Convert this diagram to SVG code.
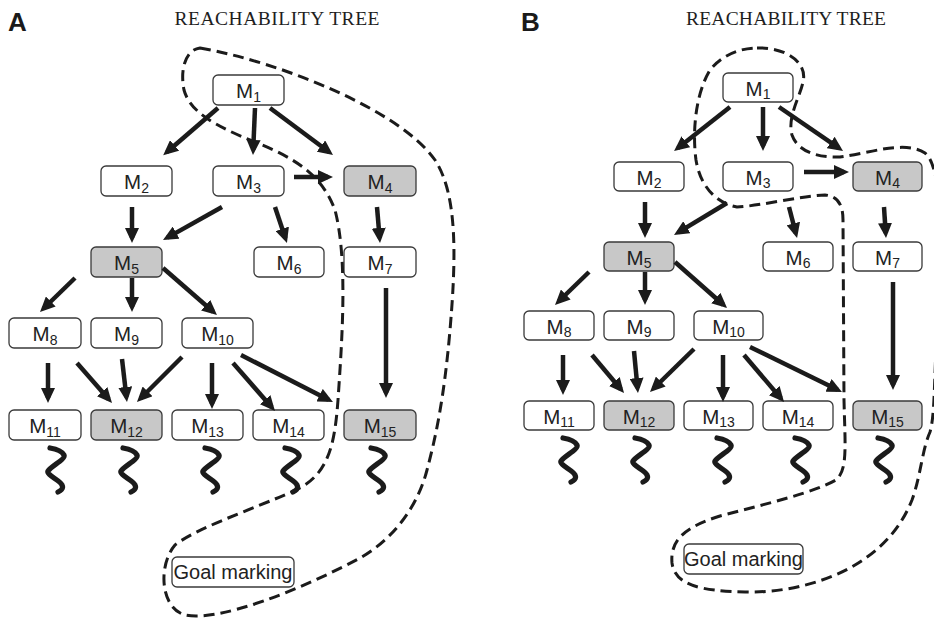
<svg xmlns="http://www.w3.org/2000/svg" xmlns:xlink="http://www.w3.org/1999/xlink" width="934" height="621" viewBox="0 0 934 621">
  <style>
    .panel { font-family: "Liberation Sans", Arial, sans-serif; font-weight: bold; font-size: 26px; fill: #1a1a1a; }
    .title { font-family: "Liberation Serif", "Times New Roman", serif; font-size: 19.5px; fill: #1e1e1e; }
    .box { fill: #ffffff; stroke: #3a3a3a; stroke-width: 1.3; }
    .goal .box { fill: #c8c8c8; }
    .lbl { font-family: "Liberation Sans", Arial, sans-serif; font-size: 20.5px; fill: #222; text-anchor: middle; }
    .sub { font-size: 14px; }
    .goaltext { font-family: "Liberation Sans", Arial, sans-serif; font-size: 20px; fill: #222; text-anchor: middle; }
    .arr { stroke: #1b1b1b; stroke-width: 4.5; fill: none; marker-end: url(#ah); }
    .region { fill: none; stroke: #1b1b1b; stroke-width: 3; stroke-dasharray: 11 6; }
    .squig { fill: none; stroke: #1b1b1b; stroke-width: 5.2; stroke-linecap: round; stroke-linejoin: round; }
  </style>
  <defs>
    <marker id="ah" viewBox="0 0 15 14" refX="10" refY="7" markerWidth="15" markerHeight="14" markerUnits="userSpaceOnUse" orient="auto">
      <path d="M0 0 L15 7 L0 14 Z" fill="#1b1b1b"/>
    </marker>
    <!-- wavy "continues" mark under each leaf -->
    <path id="squiggle" class="squig" d="M3 1 C9 2 15 4 17 8 C19 12 4 19 1 24 C-1 28 13 33 15 38 C17 42 13 44 11 45"/>
  </defs>

  <rect x="0" y="0" width="934" height="621" fill="#ffffff"/>

  <!-- ===================== Panel A ===================== -->
  <g id="panelA">
    <text class="panel" x="8" y="31">A</text>
    <text class="title" x="277" y="25" text-anchor="middle" textLength="205" lengthAdjust="spacing">REACHABILITY TREE</text>

    <g id="A-M1"><rect class="box" x="213" y="75" width="71" height="30" rx="5"/><text class="lbl" x="248.5" y="98">M<tspan class="sub" dy="3.5">1</tspan></text></g>
    <g id="A-M2"><rect class="box" x="101" y="166" width="71" height="30" rx="5"/><text class="lbl" x="136.5" y="189">M<tspan class="sub" dy="3.5">2</tspan></text></g>
    <g id="A-M3"><rect class="box" x="213" y="166" width="71" height="30" rx="5"/><text class="lbl" x="248.5" y="189">M<tspan class="sub" dy="3.5">3</tspan></text></g>
    <g id="A-M4" class="goal"><rect class="box" x="344" y="166" width="72" height="30" rx="5"/><text class="lbl" x="380" y="189">M<tspan class="sub" dy="3.5">4</tspan></text></g>
    <g id="A-M5" class="goal"><rect class="box" x="91" y="247" width="71" height="30" rx="5"/><text class="lbl" x="126.5" y="270">M<tspan class="sub" dy="3.5">5</tspan></text></g>
    <g id="A-M6"><rect class="box" x="254" y="247" width="70" height="30" rx="5"/><text class="lbl" x="289" y="270">M<tspan class="sub" dy="3.5">6</tspan></text></g>
    <g id="A-M7"><rect class="box" x="344" y="247" width="72" height="30" rx="5"/><text class="lbl" x="380" y="270">M<tspan class="sub" dy="3.5">7</tspan></text></g>
    <g id="A-M8"><rect class="box" x="9" y="318" width="72" height="30" rx="5"/><text class="lbl" x="45" y="341">M<tspan class="sub" dy="3.5">8</tspan></text></g>
    <g id="A-M9"><rect class="box" x="91" y="318" width="71" height="30" rx="5"/><text class="lbl" x="126.5" y="341">M<tspan class="sub" dy="3.5">9</tspan></text></g>
    <g id="A-M10"><rect class="box" x="182" y="318" width="71" height="30" rx="5"/><text class="lbl" x="217.5" y="341">M<tspan class="sub" dy="3.5">10</tspan></text></g>
    <g id="A-M11"><rect class="box" x="9" y="410" width="72" height="30" rx="5"/><text class="lbl" x="45" y="433">M<tspan class="sub" dy="3.5">11</tspan></text></g>
    <g id="A-M12" class="goal"><rect class="box" x="91" y="410" width="71" height="30" rx="5"/><text class="lbl" x="126.5" y="433">M<tspan class="sub" dy="3.5">12</tspan></text></g>
    <g id="A-M13"><rect class="box" x="172" y="410" width="71" height="30" rx="5"/><text class="lbl" x="207.5" y="433">M<tspan class="sub" dy="3.5">13</tspan></text></g>
    <g id="A-M14"><rect class="box" x="253" y="410" width="71" height="30" rx="5"/><text class="lbl" x="288.5" y="433">M<tspan class="sub" dy="3.5">14</tspan></text></g>
    <g id="A-M15" class="goal"><rect class="box" x="344" y="410" width="72" height="30" rx="5"/><text class="lbl" x="380" y="433">M<tspan class="sub" dy="3.5">15</tspan></text></g>
    <g id="A-goal"><rect class="box" x="172" y="557" width="122" height="30" rx="5"/><text class="goaltext" x="233" y="579">Goal marking</text></g>

    <g id="A-connectors">
      <line class="arr" x1="218" y1="108" x2="167" y2="152"/>
      <line class="arr" x1="255" y1="108" x2="253.2" y2="150"/>
      <line class="arr" x1="270" y1="108" x2="329" y2="152"/>
      <line class="arr" x1="294" y1="177" x2="328" y2="177"/>
      <line class="arr" x1="132" y1="207" x2="132" y2="238"/>
      <line class="arr" x1="222" y1="207" x2="167.4" y2="237.6"/>
      <line class="arr" x1="275" y1="207" x2="285.4" y2="238.3"/>
      <line class="arr" x1="377" y1="207" x2="379.6" y2="238"/>
      <line class="arr" x1="75" y1="278" x2="43.6" y2="308.5"/>
      <line class="arr" x1="132" y1="278" x2="132" y2="307"/>
      <line class="arr" x1="163" y1="268" x2="213.2" y2="311.7"/>
      <line class="arr" x1="386" y1="288" x2="386" y2="393"/>
      <line class="arr" x1="48" y1="363" x2="48" y2="398"/>
      <line class="arr" x1="77" y1="363" x2="108.7" y2="399.2"/>
      <line class="arr" x1="122" y1="359" x2="126.4" y2="397"/>
      <line class="arr" x1="182" y1="357" x2="140.5" y2="398.5"/>
      <line class="arr" x1="212" y1="363" x2="212" y2="404"/>
      <line class="arr" x1="233" y1="363" x2="271.7" y2="407.2"/>
      <line class="arr" x1="241" y1="355" x2="328.5" y2="399.7"/>
    </g>

    <g id="A-continuations">
      <use xlink:href="#squiggle" href="#squiggle" x="47" y="447"/>
      <use xlink:href="#squiggle" href="#squiggle" x="120" y="447"/>
      <use xlink:href="#squiggle" href="#squiggle" x="202" y="447"/>
      <use xlink:href="#squiggle" href="#squiggle" x="282" y="447"/>
      <use xlink:href="#squiggle" href="#squiggle" x="368" y="447"/>
    </g>

    <path id="A-region" class="region" d="M200 48 C280 62 400 110 435 160 C458 195 456 260 450 330 C444 400 435 440 427 470 C418 505 395 538 360 558 C300 590 220 622 185 615 C160 608 158 565 175 545 C200 525 280 500 305 485 C330 468 335 440 338 400 C342 340 348 260 335 210 C322 175 295 158 255 142 C215 126 190 112 184 90 C180 70 185 50 200 48 Z"/>
  </g>

  <!-- ===================== Panel B ===================== -->
  <g id="panelB">
    <text class="panel" x="521" y="31">B</text>
    <text class="title" x="786" y="25" text-anchor="middle" textLength="200" lengthAdjust="spacing">REACHABILITY TREE</text>

    <g id="B-M1"><rect class="box" x="723" y="73" width="70" height="29" rx="5"/><text class="lbl" x="758" y="95.5">M<tspan class="sub" dy="3.5">1</tspan></text></g>
    <g id="B-M2"><rect class="box" x="614" y="162" width="70" height="29" rx="5"/><text class="lbl" x="649" y="184.5">M<tspan class="sub" dy="3.5">2</tspan></text></g>
    <g id="B-M3"><rect class="box" x="723" y="162" width="70" height="29" rx="5"/><text class="lbl" x="758" y="184.5">M<tspan class="sub" dy="3.5">3</tspan></text></g>
    <g id="B-M4" class="goal"><rect class="box" x="853" y="162" width="69" height="29" rx="5"/><text class="lbl" x="887.5" y="184.5">M<tspan class="sub" dy="3.5">4</tspan></text></g>
    <g id="B-M5" class="goal"><rect class="box" x="604" y="242" width="70" height="29" rx="5"/><text class="lbl" x="639" y="264.5">M<tspan class="sub" dy="3.5">5</tspan></text></g>
    <g id="B-M6"><rect class="box" x="763" y="242" width="70" height="29" rx="5"/><text class="lbl" x="798" y="264.5">M<tspan class="sub" dy="3.5">6</tspan></text></g>
    <g id="B-M7"><rect class="box" x="853" y="242" width="69" height="29" rx="5"/><text class="lbl" x="887.5" y="264.5">M<tspan class="sub" dy="3.5">7</tspan></text></g>
    <g id="B-M8"><rect class="box" x="524" y="311" width="70" height="29" rx="5"/><text class="lbl" x="559" y="333.5">M<tspan class="sub" dy="3.5">8</tspan></text></g>
    <g id="B-M9"><rect class="box" x="604" y="311" width="70" height="29" rx="5"/><text class="lbl" x="639" y="333.5">M<tspan class="sub" dy="3.5">9</tspan></text></g>
    <g id="B-M10"><rect class="box" x="694" y="311" width="69" height="29" rx="5"/><text class="lbl" x="728.5" y="333.5">M<tspan class="sub" dy="3.5">10</tspan></text></g>
    <g id="B-M11"><rect class="box" x="524" y="401" width="70" height="29" rx="5"/><text class="lbl" x="559" y="423.5">M<tspan class="sub" dy="3.5">11</tspan></text></g>
    <g id="B-M12" class="goal"><rect class="box" x="604" y="401" width="70" height="29" rx="5"/><text class="lbl" x="639" y="423.5">M<tspan class="sub" dy="3.5">12</tspan></text></g>
    <g id="B-M13"><rect class="box" x="684" y="401" width="69" height="29" rx="5"/><text class="lbl" x="718.5" y="423.5">M<tspan class="sub" dy="3.5">13</tspan></text></g>
    <g id="B-M14"><rect class="box" x="763" y="401" width="70" height="29" rx="5"/><text class="lbl" x="798" y="423.5">M<tspan class="sub" dy="3.5">14</tspan></text></g>
    <g id="B-M15" class="goal"><rect class="box" x="853" y="401" width="69" height="29" rx="5"/><text class="lbl" x="887.5" y="423.5">M<tspan class="sub" dy="3.5">15</tspan></text></g>
    <g id="B-goal"><rect class="box" x="684" y="544" width="119" height="30" rx="5"/><text class="goaltext" x="743.5" y="566">Goal marking</text></g>

    <g id="B-connectors">
      <line class="arr" x1="730" y1="107" x2="678" y2="148"/>
      <line class="arr" x1="763" y1="107" x2="763" y2="146"/>
      <line class="arr" x1="779" y1="107" x2="838.9" y2="148.2"/>
      <line class="arr" x1="804" y1="172" x2="844" y2="172"/>
      <line class="arr" x1="645" y1="202" x2="645" y2="233"/>
      <line class="arr" x1="727" y1="203" x2="678.3" y2="232.4"/>
      <line class="arr" x1="789" y1="207" x2="795.8" y2="233.2"/>
      <line class="arr" x1="884" y1="207" x2="885.7" y2="233"/>
      <line class="arr" x1="589" y1="272" x2="558.6" y2="301.5"/>
      <line class="arr" x1="645" y1="272" x2="645" y2="300"/>
      <line class="arr" x1="675" y1="262" x2="723.3" y2="304.7"/>
      <line class="arr" x1="893" y1="282" x2="893" y2="385"/>
      <line class="arr" x1="563" y1="355" x2="563" y2="390"/>
      <line class="arr" x1="592" y1="355" x2="620.8" y2="389.2"/>
      <line class="arr" x1="634" y1="351" x2="637.5" y2="388"/>
      <line class="arr" x1="694" y1="349" x2="653.6" y2="388.5"/>
      <line class="arr" x1="723" y1="355" x2="723" y2="397"/>
      <line class="arr" x1="744" y1="355" x2="780.8" y2="398.2"/>
      <line class="arr" x1="750" y1="347" x2="837.5" y2="389.8"/>
    </g>

    <g id="B-continuations">
      <use xlink:href="#squiggle" href="#squiggle" x="560" y="437"/>
      <use xlink:href="#squiggle" href="#squiggle" x="632" y="437"/>
      <use xlink:href="#squiggle" href="#squiggle" x="714" y="437"/>
      <use xlink:href="#squiggle" href="#squiggle" x="792" y="437"/>
      <use xlink:href="#squiggle" href="#squiggle" x="875" y="437"/>
    </g>

    <path id="B-region" class="region" d="M757 48 C785 47 808 62 803 82 C800 97 787 117 792 135 C797 150 815 158 840 157 C870 153 905 140 925 153 C945 168 942 270 937 330 C934 380 935 415 930 432 C922 450 921 475 912 500 C900 530 880 550 855 565 C830 580 790 593 745 592 C700 591 675 585 672 563 C670 540 685 527 720 516 C770 503 815 492 836 480 C848 470 845 445 844 400 L843 220 C843 205 838 196 825 195 C800 196 760 206 737 207 C715 203 700 185 696 160 C692 130 696 93 710 70 C722 55 740 48 757 48 Z"/>
  </g>
</svg>
